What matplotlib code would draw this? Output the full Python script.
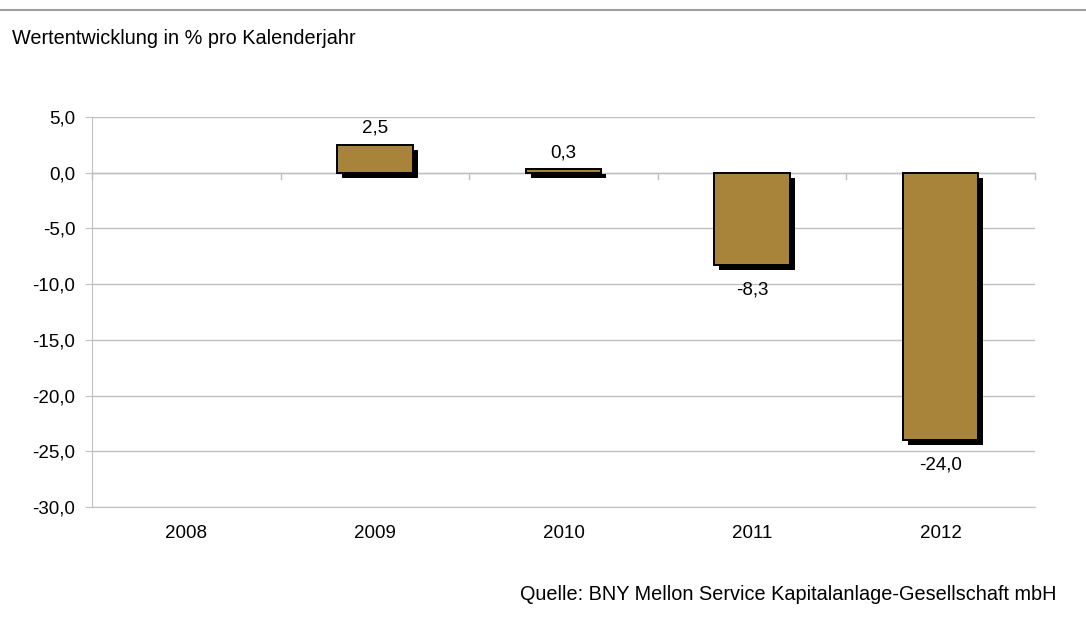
import numpy as np
import matplotlib.pyplot as plt
from matplotlib.ticker import FuncFormatter

plt.rcParams['font.family'] = ['Liberation Sans', 'DejaVu Sans']

years = ['2008', '2009', '2010', '2011', '2012']
values = [np.nan, 2.5, 0.3, -8.3, -24.0]
labels = ['', '2,5', '0,3', '-8,3', '-24,0']

BAR_COLOR = '#a8843a'
GRID_COLOR = '#c0c0c0'
FS = 13.5

fig = plt.figure(figsize=(10.86, 6.2), dpi=100)
ax = fig.add_axes([92/1086, 1-507/620, (1035-92)/1086, (507-117)/620])

x = np.arange(len(years))
w = 0.40
# shadow offset in data units (about 5 px)
dx = 5/188.6
dy = -35/390*5

for xi, v in zip(x, values):
    if np.isnan(v):
        continue
    ax.bar(xi+dx, v, w, bottom=dy, color='black', zorder=2)
ax.bar(x, values, w, color=BAR_COLOR, edgecolor='black', linewidth=1.4, zorder=3)

for xi, v, lab in zip(x, values, labels):
    if np.isnan(v):
        continue
    if v >= 0:
        ax.annotate(lab, (xi, v), xytext=(0, 6), textcoords='offset points',
                    ha='center', va='bottom', fontsize=FS)
    else:
        ax.annotate(lab, (xi, v), xytext=(0, -12), textcoords='offset points',
                    ha='center', va='top', fontsize=FS)

ax.set_xlim(-0.5, len(years)-0.5)
ax.set_ylim(-30, 5)
ax.set_yticks(np.arange(-30, 5.1, 5))
ax.yaxis.set_major_formatter(FuncFormatter(lambda v, p: ('%.1f' % v).replace('.', ',')))
ax.yaxis.grid(True, color=GRID_COLOR, linewidth=1)
ax.set_axisbelow(True)

# category labels at the bottom, boundary ticks on the zero line
ax.set_xticks([])
for xi, y in zip(x, years):
    ax.annotate(y, (xi, -30), xytext=(0, -19), textcoords='offset points',
                ha='center', va='center', fontsize=FS)
for b in np.arange(-0.5, len(years)):
    ax.plot([b, b], [0, -0.55], color=GRID_COLOR, linewidth=1, zorder=1, clip_on=False)
ax.axhline(0, color=GRID_COLOR, linewidth=1, zorder=1)

for s in ['top', 'right']:
    ax.spines[s].set_visible(False)
ax.spines['left'].set_color(GRID_COLOR)
ax.spines['bottom'].set_color(GRID_COLOR)
ax.tick_params(axis='y', colors=GRID_COLOR, labelcolor='black', labelsize=FS, length=5, pad=7)

fig.text(12/1086, 1-38/620, 'Wertentwicklung in % pro Kalenderjahr', fontsize=14.3, va='center')
fig.text(1057/1086, 1-594/620, 'Quelle: BNY Mellon Service Kapitalanlage-Gesellschaft mbH',
         fontsize=14.3, ha='right', va='center')
fig.add_artist(plt.Line2D([0, 1], [1-10/620, 1-10/620], color='#a0a0a0', linewidth=1.5))

fig.savefig('out.png', dpi=100)
